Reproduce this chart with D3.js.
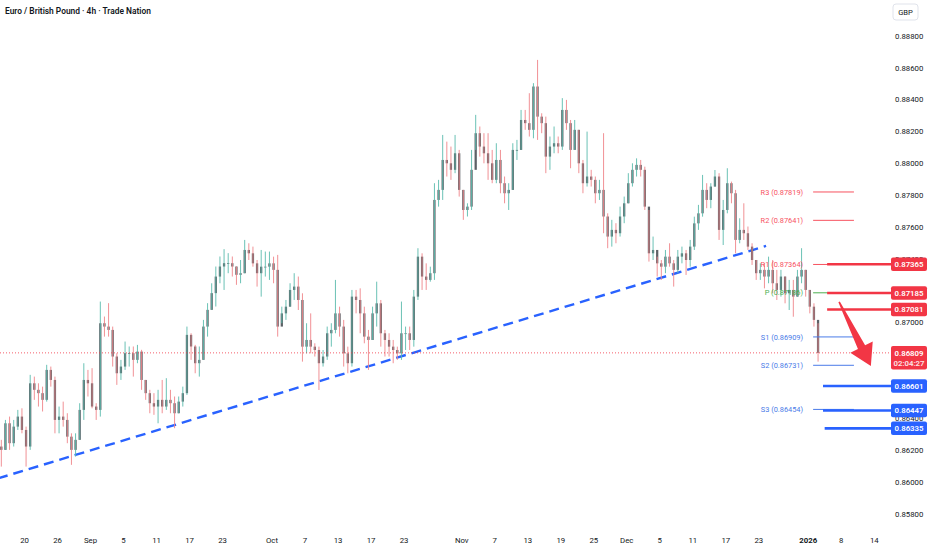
<!DOCTYPE html>
<html><head><meta charset="utf-8">
<script src="https://cdn.jsdelivr.net/npm/d3@7"></script>
<style>
html,body{margin:0;padding:0;background:#fff;}
svg{display:block;font-family:Roboto,"Noto Sans",sans-serif;}
</style></head>
<body><svg id="c" width="932" height="550"></svg>
<script>
// ---- data (12h candles, EUR/GBP) ----
const firstOpen = 0.86221;
const highs = [0.86263,0.86388,0.86409,0.86388,0.86451,0.86461,0.86346,0.86671,0.86660,0.86618,0.86597,0.86734,0.86723,0.86660,0.86472,0.86503,0.86430,0.86304,0.86304,0.86493,0.86744,0.86702,0.86713,0.86493,0.87131,0.87037,0.87121,0.86974,0.86807,0.86765,0.86880,0.86849,0.86849,0.86859,0.86828,0.86639,0.86577,0.86556,0.86577,0.86639,0.86650,0.86577,0.86535,0.86535,0.86597,0.86974,0.86932,0.86859,0.86849,0.87016,0.87121,0.87246,0.87351,0.87414,0.87460,0.87435,0.87414,0.87351,0.87392,0.87518,0.87497,0.87476,0.87392,0.87455,0.87445,0.87445,0.87413,0.87424,0.87099,0.87141,0.87246,0.87309,0.87288,0.87183,0.86995,0.87057,0.86869,0.86848,0.86827,0.86974,0.86995,0.87267,0.87099,0.87016,0.86848,0.87204,0.87204,0.87214,0.87099,0.86953,0.87099,0.87256,0.87141,0.86953,0.86932,0.86890,0.86848,0.87131,0.86974,0.86974,0.87204,0.87466,0.87434,0.87371,0.87350,0.87874,0.87895,0.88177,0.88135,0.88104,0.88177,0.88083,0.87832,0.87748,0.88083,0.88303,0.88230,0.88188,0.88188,0.88083,0.88125,0.88083,0.87916,0.87874,0.88125,0.88146,0.88334,0.88334,0.88439,0.88502,0.88648,0.88313,0.88292,0.88167,0.88230,0.88167,0.88408,0.88397,0.88271,0.88271,0.88209,0.88020,0.88198,0.87958,0.87916,0.87895,0.88188,0.87685,0.87644,0.87623,0.87727,0.87790,0.87937,0.87999,0.88030,0.88020,0.87978,0.87706,0.87539,0.87413,0.87392,0.87455,0.87497,0.87392,0.87455,0.87476,0.87455,0.87518,0.87664,0.87738,0.87926,0.87874,0.87874,0.87957,0.87937,0.87769,0.87968,0.87884,0.87832,0.87654,0.87748,0.87602,0.87497,0.87392,0.87371,0.87371,0.87413,0.87392,0.87330,0.87330,0.87288,0.87267,0.87267,0.87330,0.87466,0.87330,0.87204,0.87120,0.86995];
const lows = [0.86095,0.86200,0.86200,0.86221,0.86325,0.86304,0.86095,0.86200,0.86514,0.86472,0.86441,0.86503,0.86597,0.86304,0.86304,0.86346,0.86242,0.86106,0.86158,0.86263,0.86388,0.86535,0.86461,0.86388,0.86409,0.86911,0.86911,0.86723,0.86608,0.86639,0.86702,0.86723,0.86660,0.86744,0.86577,0.86514,0.86430,0.86420,0.86367,0.86430,0.86451,0.86430,0.86336,0.86430,0.86472,0.86545,0.86765,0.86681,0.86660,0.86765,0.86911,0.87079,0.87100,0.87246,0.87204,0.87309,0.87288,0.87236,0.87246,0.87309,0.87392,0.87350,0.87225,0.87162,0.87288,0.87267,0.87246,0.86911,0.86995,0.87016,0.87099,0.87141,0.87078,0.86754,0.86806,0.86806,0.86786,0.86576,0.86723,0.86765,0.86848,0.86932,0.86911,0.86723,0.86681,0.86723,0.87057,0.86932,0.86869,0.86702,0.86890,0.86974,0.86848,0.86786,0.86786,0.86744,0.86765,0.86765,0.86827,0.86827,0.86848,0.87141,0.87204,0.87204,0.87256,0.87267,0.87727,0.87769,0.87916,0.87895,0.87937,0.87790,0.87644,0.87665,0.87706,0.88083,0.88041,0.87999,0.87895,0.87874,0.87874,0.87811,0.87748,0.87706,0.87832,0.88020,0.88083,0.88209,0.88167,0.88156,0.88146,0.88188,0.87937,0.87958,0.88062,0.88062,0.88083,0.88209,0.87968,0.88083,0.87937,0.87811,0.87853,0.87853,0.87748,0.87769,0.87560,0.87466,0.87476,0.87497,0.87539,0.87623,0.87748,0.87853,0.87916,0.87916,0.87706,0.87382,0.87392,0.87288,0.87267,0.87309,0.87350,0.87225,0.87309,0.87371,0.87298,0.87350,0.87455,0.87581,0.87664,0.87717,0.87717,0.87853,0.87518,0.87486,0.87685,0.87748,0.87434,0.87497,0.87518,0.87455,0.87361,0.87267,0.87267,0.87214,0.87246,0.87183,0.87141,0.87162,0.87120,0.87078,0.87036,0.87162,0.87246,0.87162,0.87057,0.86974,0.86754];
const closes = [0.86200,0.86367,0.86242,0.86346,0.86409,0.86325,0.86221,0.86618,0.86577,0.86556,0.86514,0.86702,0.86639,0.86388,0.86409,0.86388,0.86283,0.86200,0.86263,0.86451,0.86639,0.86618,0.86472,0.86451,0.86995,0.86974,0.86953,0.86786,0.86681,0.86723,0.86807,0.86807,0.86765,0.86817,0.86639,0.86556,0.86493,0.86472,0.86514,0.86472,0.86514,0.86493,0.86430,0.86503,0.86556,0.86922,0.86849,0.86744,0.86765,0.86974,0.87079,0.87184,0.87288,0.87351,0.87372,0.87372,0.87351,0.87299,0.87309,0.87455,0.87434,0.87371,0.87309,0.87350,0.87350,0.87371,0.87330,0.86974,0.87057,0.87099,0.87204,0.87225,0.87141,0.86848,0.86890,0.86848,0.86827,0.86744,0.86786,0.86932,0.86953,0.87057,0.86974,0.86806,0.86744,0.87162,0.87141,0.87057,0.86911,0.86890,0.87057,0.87120,0.86932,0.86890,0.86848,0.86827,0.86806,0.86932,0.86932,0.86890,0.87162,0.87413,0.87288,0.87267,0.87309,0.87769,0.87832,0.88020,0.87999,0.87958,0.88062,0.87832,0.87706,0.87727,0.87958,0.88188,0.88104,0.88062,0.87999,0.87895,0.88020,0.87874,0.87811,0.87832,0.88083,0.88083,0.88271,0.88251,0.88209,0.88481,0.88292,0.88251,0.88041,0.88104,0.88125,0.88104,0.88334,0.88251,0.88083,0.88209,0.87999,0.87874,0.87916,0.87895,0.87811,0.87832,0.87665,0.87539,0.87581,0.87560,0.87665,0.87748,0.87874,0.87958,0.87989,0.87958,0.87727,0.87434,0.87455,0.87371,0.87350,0.87413,0.87371,0.87330,0.87413,0.87434,0.87392,0.87476,0.87622,0.87685,0.87832,0.87769,0.87853,0.87916,0.87581,0.87706,0.87874,0.87811,0.87518,0.87581,0.87560,0.87476,0.87392,0.87309,0.87330,0.87288,0.87330,0.87246,0.87204,0.87288,0.87183,0.87204,0.87162,0.87288,0.87330,0.87204,0.87099,0.87016,0.86809];
const firstIndex = -6;               // candle index of first entry (0 = 20 Aug, first half)
const timeTickIndex = [0,8,16,24,32,40,48,60,68,76,84,92,106,114,122,130,138,146,154,162,170,178,190,198,206];
const timeTickLabels = ["20","26","Sep","5","11","17","23","Oct","7","13","17","23","Nov","7","13","19","25","Dec","5","11","17","23","2026","8","14"];
const priceTicks = [0.858,0.860,0.862,0.864,0.866,0.868,0.870,0.872,0.874,0.876,0.878,0.880,0.882,0.884,0.886,0.888];
const pivotNames  = ["R3","R2","R1","P","S1","S2","S3"];
const pivotValues = [0.87819,0.87641,0.87364,0.87186,0.86909,0.86731,0.86454];
const pivotColors = ["#f7525f","#f7525f","#f7525f","#4caf50","#4a7be8","#4a7be8","#4a7be8"];
const pivotRange = [191.3, 201.2];
const levelValues = [0.87365,0.87185,0.87081,0.86601,0.86447,0.86335];
const levelColors = ["#f23645","#f23645","#f23645","#2962ff","#2962ff","#2962ff"];
const levelStart  = [194.7,194.7,194.7,193.7,193.7,194.1];
const trendFrom = [-6.3, 0.86021], trendTo = [179.9, 0.87480];
const arrowFrom = [197.6, 0.87129], arrowTo = [205.3, 0.86727];
const lastPrice = 0.86809, countdown = "02:04:27";

// ---- scales ----
const axisX = 891;
const x = d3.scaleLinear().domain([0, 206]).range([24, 873.75]);
const y = d3.scaleLinear().domain([0.858, 0.888]).range([513.6, 35.7]);
const svg = d3.select("#c");

const candles = closes.map((c, i) => ({
  j: i + firstIndex,
  o: i === 0 ? firstOpen : closes[i - 1],
  h: highs[i], l: lows[i], c
}));

// title
svg.append("text").attr("x", 5).attr("y", 14).attr("font-size", 8.4).attr("font-weight", 600)
  .attr("fill", "#131722").text("Euro / British Pound · 4h · Trade Nation");

// trend line
svg.append("line")
  .attr("x1", x(trendFrom[0])).attr("y1", y(trendFrom[1]))
  .attr("x2", x(trendTo[0])).attr("y2", y(trendTo[1]))
  .attr("stroke", "#2962ff").attr("stroke-width", 2.4).attr("stroke-dasharray", "10,6");

// candles
const cw = (x(1) - x(0)) * 0.55;
const g = svg.append("g");
g.selectAll("rect").data(candles).join("rect")
  .attr("x", d => x(d.j + 0.5) - cw / 2)
  .attr("y", d => y(Math.max(d.o, d.c)))
  .attr("width", cw)
  .attr("height", d => Math.max(0.8, Math.abs(y(d.o) - y(d.c))))
  .attr("fill", "#5d6166");
g.selectAll("line").data(candles).join("line")
  .attr("x1", d => x(d.j + 0.5)).attr("x2", d => x(d.j + 0.5))
  .attr("y1", d => y(d.h)).attr("y2", d => y(d.l))
  .attr("stroke", d => d.c >= d.o ? "#5cbcae" : "#f0868b")
  .attr("stroke-width", 1).attr("opacity", 0.9);

// current price dotted line
svg.append("line").attr("x1", 0).attr("x2", axisX)
  .attr("y1", y(lastPrice)).attr("y2", y(lastPrice))
  .attr("stroke", "#f23645").attr("stroke-width", 0.8).attr("stroke-dasharray", "1,2");

// pivot lines and labels
pivotValues.forEach((v, i) => {
  svg.append("line").attr("x1", x(pivotRange[0])).attr("x2", x(pivotRange[1]))
    .attr("y1", y(v)).attr("y2", y(v)).attr("stroke", pivotColors[i]).attr("stroke-width", 1);
  svg.append("text").attr("x", x(pivotRange[0]) - 10).attr("y", y(v) + 2.6)
    .attr("text-anchor", "end").attr("font-size", 7.4).attr("fill", pivotColors[i])
    .text(`${pivotNames[i]} (${v.toFixed(5)})`);
});

// horizontal level lines
levelValues.forEach((v, i) => {
  svg.append("line").attr("x1", x(levelStart[i])).attr("x2", axisX)
    .attr("y1", y(v)).attr("y2", y(v)).attr("stroke", levelColors[i]).attr("stroke-width", 2.6);
});

// arrow
(function () {
  const sx = x(arrowFrom[0]), sy = y(arrowFrom[1]), tx = x(arrowTo[0]), ty = y(arrowTo[1]);
  const L = Math.hypot(tx - sx, ty - sy), ux = (tx - sx) / L, uy = (ty - sy) / L, nx = -uy, ny = ux;
  const hl = 21, hw = 12.5, bx = tx - ux * hl, by = ty - uy * hl;
  const pts = [[sx + nx * 0.8, sy + ny * 0.8], [bx + nx * 4, by + ny * 4], [bx + nx * hw, by + ny * hw],
    [tx, ty], [bx - nx * hw, by - ny * hw], [bx - nx * 4, by - ny * 4], [sx - nx * 0.8, sy - ny * 0.8]];
  svg.append("path").attr("d", "M" + pts.map(p => p.join(",")).join("L") + "Z").attr("fill", "#f23645");
})();

// right price axis (labels hidden behind a price tag are dropped, as on the reference)
const tagPrices = levelValues.concat([lastPrice]);
const shownTicks = priceTicks.filter(t => !tagPrices.some(p => Math.abs(y(p) - y(t)) < 5));
const ya = svg.append("g").attr("transform", `translate(${axisX + 3},0)`)
  .call(d3.axisRight(y).tickValues(shownTicks).tickSize(0).tickPadding(1).tickFormat(d3.format(".5f")));
ya.select(".domain").remove();
ya.selectAll("text").attr("font-size", 7.8).attr("fill", "#131722").attr("font-family", "Roboto,sans-serif");

// bottom time axis
const xa = svg.append("g").attr("transform", "translate(0,534)")
  .call(d3.axisBottom(x).tickValues(timeTickIndex).tickSize(0).tickPadding(3)
    .tickFormat((d, i) => timeTickLabels[i]));
xa.select(".domain").remove();
xa.selectAll("text").attr("font-size", 7.8).attr("fill", "#131722").attr("font-family", "Roboto,sans-serif")
  .attr("font-weight", (d, i) => timeTickLabels[i] === "2026" ? 700 : 400);

// price tags
function tag(v, color, lines) {
  const cy = y(v), hgt = 13.5 + (lines.length - 1) * 10;
  svg.append("rect").attr("x", axisX).attr("y", cy - 6.8).attr("width", 36).attr("height", hgt)
    .attr("rx", 2).attr("fill", color);
  lines.forEach((t, k) => svg.append("text").attr("x", axisX + 18).attr("y", cy + 2.8 + k * 10.5)
    .attr("text-anchor", "middle").attr("font-size", 7.8).attr("font-weight", 600)
    .attr("fill", k === 0 ? "#fff" : "#fde4e6").text(t));
}
levelValues.forEach((v, i) => tag(v, levelColors[i], [v.toFixed(5)]));
tag(lastPrice, "#f23645", [lastPrice.toFixed(5), countdown]);

// currency box
svg.append("rect").attr("x", 893).attr("y", 4).attr("width", 25).attr("height", 16).attr("rx", 3)
  .attr("fill", "#fff").attr("stroke", "#e0e3eb");
svg.append("text").attr("x", 905.5).attr("y", 15).attr("text-anchor", "middle").attr("font-size", 7.6)
  .attr("fill", "#131722").text("GBP");
</script></body></html>
